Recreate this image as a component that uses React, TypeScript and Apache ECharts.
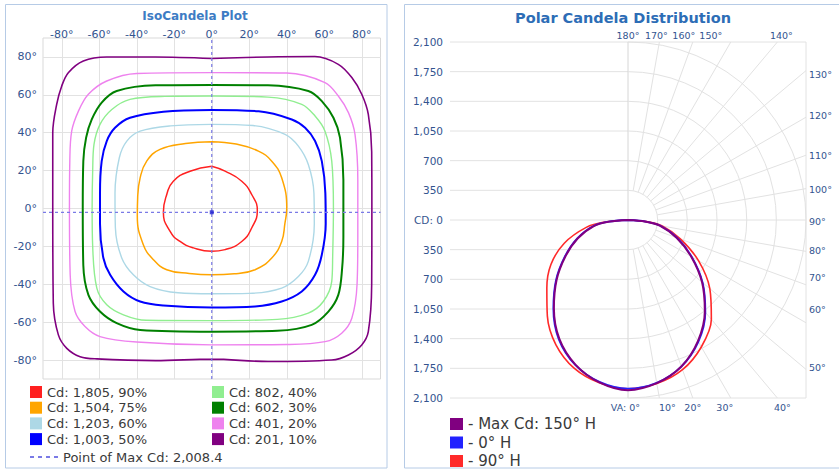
import React, { useEffect, useRef } from "react";
import * as echarts from "echarts";

const FONT = "'DejaVu Sans', Verdana, sans-serif";

// ---------------- IsoCandela plot data (degrees) ----------------
const isoAxisTicks = [-80, -60, -40, -20, 0, 20, 40, 60, 80];

const contourNames = [
  "Cd: 1,805, 90%",
  "Cd: 1,504, 75%",
  "Cd: 1,203, 60%",
  "Cd: 1,003, 50%",
  "Cd: 802, 40%",
  "Cd: 602, 30%",
  "Cd: 401, 20%",
  "Cd: 201, 10%",
];

const contour90 = [
  [0, 22.3], [7.1, 19.7], [16, 14.4], [21.3, 7.4], [24.3, -1], [21.3, -10.3], [16, -17.4],
  [7.1, -21.7], [0, -22.6], [-9.8, -20.8], [-16.9, -17.4], [-22.2, -12.1], [-25.8, -2],
  [-24, 7.4], [-20.5, 14.4], [-11.6, 19.7],
];
const contour75 = [
  [0, 35.3], [13, 34], [24.9, 30.3], [32, 25], [37.3, 16.2], [40, 0], [39, -8], [37.3, -17.4],
  [32, -26.1], [23.1, -32.3], [12, -34.5], [0, -35], [-12, -34.3], [-24, -32.3], [-31.1, -27],
  [-36.5, -19.1], [-39.7, -4], [-39.5, 6], [-38.2, 16.2], [-34.7, 25], [-27.6, 31.2], [-14, 34.3],
];
const contour60 = [
  [0, 44.4], [22, 43.8], [39.1, 39.1], [46.2, 32.9], [51.5, 23.2], [54.5, 8], [54.7, -8],
  [51.5, -27.9], [46.2, -35.9], [37.3, -42], [20, -44.8], [0, -45], [-18, -44.5], [-32.9, -41.2],
  [-41.8, -35], [-48, -26.1], [-51.4, -10], [-51.6, 8], [-49.3, 26.8], [-45.3, 35.6],
  [-38.2, 40.8], [-22, 43.6],
];
const contour50 = [
  [0, 52], [25, 51.3], [42.7, 47], [49.8, 42.6], [55.1, 35.6], [58.7, 25], [60.6, 8], [60.8, -8],
  [58.7, -24.4], [55.1, -35], [48, -43.8], [37.3, -49.1], [23.1, -51.7], [0, -52.3],
  [-25.8, -51.2], [-38.2, -49.1], [-47.1, -43.8], [-54.2, -35], [-57.8, -26.1], [-59.6, -8],
  [-59.6, 8], [-58.7, 25], [-56, 35.6], [-51.6, 42.6], [-43.6, 47.9], [-25.8, 51.1],
];
const contour40 = [
  [0, 59.4], [30, 58.8], [48, 55], [55.1, 48.8], [60.4, 40.8], [64, 25], [64.9, 0], [64.5, -25],
  [64, -38.5], [59.5, -49.1], [51.5, -55.2], [35, -58.5], [0, -59.2], [-35, -59], [-47.1, -56.1],
  [-56, -50.8], [-61.3, -42], [-63.5, -20], [-63.8, 0], [-63.5, 20], [-62.8, 33.8],
  [-59.6, 44.4], [-53.3, 52.3], [-43.6, 57.6], [-25, 59.2],
];
const contour30 = [
  [0, 65.2], [30, 65], [51.5, 62], [58.7, 56.7], [64.9, 47.9], [68.4, 37.4], [70.2, 15],
  [70.2, -15], [69.5, -32], [67.5, -45.6], [62.2, -54.4], [53.3, -61.4], [35, -64.5], [0, -65],
  [-38.2, -64.1], [-50.7, -60.5], [-59.6, -54.4], [-65.8, -45.6], [-68.5, -30], [-68.8, 0],
  [-68.5, 25], [-67, 37.4], [-64, 47], [-58.7, 55.9], [-50.7, 62], [-30, 65],
];
const contour20 = [
  [0, 71.7], [40, 71.5], [60.4, 66.5], [67.5, 59.4], [72.9, 50.6], [76.4, 39.1], [77.9, 15],
  [77.9, -15], [77.5, -40], [74.7, -57.9], [69.3, -65.8], [60.4, -70.3], [40, -71.8], [0, -72],
  [-40, -70.5], [-59.6, -67.6], [-67.6, -62.3], [-72.9, -54.4], [-75.5, -35], [-75.9, 0],
  [-75.7, 25], [-74.7, 40.8], [-71.1, 51.4], [-65.8, 60.3], [-56, 67.3], [-40, 71.3],
];
const contour10 = [
  [0, 79.2], [30, 80], [55, 80.2], [67.5, 76.1], [74.7, 69.1], [80, 60.3], [83.5, 49.7],
  [85.3, 30], [85.4, 0], [85.3, -40], [83.5, -65], [80, -72], [72.9, -77.3], [64, -80],
  [30, -80.8], [0, -79.5], [-30, -80.3], [-61.3, -79.4], [-70.2, -78.2], [-77.3, -73.8],
  [-81.8, -66.7], [-84.5, -50], [-84.8, 0], [-84.8, 40], [-82.7, 55], [-80, 64.7],
  [-76.5, 71.7], [-68.5, 77.9], [-56, 80], [-30, 80],
];
const contours = [contour90, contour75, contour60, contour50, contour40, contour30, contour20, contour10];

const maxPointName = "Point of Max Cd: 2,008.4";
const maxPoint = [0, -2];

// ---------------- Polar candela data ----------------
const cdGridValues = [350, 700, 1050, 1400, 1750, 2100];
const polarAngleLabels = [0, 10, 20, 30, 40, 50, 60, 70, 80, 90, 100, 110, 120, 130, 140, 150, 160, 170, 180];

const vaAngles = [0, 10, 20, 30, 40, 50, 60, 70, 80, 85, 90];
const polarNames = ["- Max Cd: 150° H", "- 0° H", "- 90° H"];
const maxCdRight = [2008, 1955, 1840, 1650, 1410, 1140, 860, 610, 380, 200, 0];
const maxCdLeft = [2008, 1945, 1815, 1620, 1360, 1100, 850, 630, 410, 220, 0];
const h0Right = [1990, 1950, 1840, 1660, 1420, 1150, 870, 620, 390, 210, 0];
const h0Left = [1990, 1940, 1820, 1630, 1370, 1110, 860, 640, 420, 230, 0];
const h90Right = [1990, 1960, 1880, 1730, 1530, 1260, 960, 660, 410, 220, 0];
const h90Left = [1990, 1950, 1860, 1700, 1480, 1250, 1050, 800, 500, 280, 0];
const polarRight = [maxCdRight, h0Right, h90Right];
const polarLeft = [maxCdLeft, h0Left, h90Left];

// ---------------- styles ----------------
const contourColors = ["#ff2020", "#ffa500", "#add8e6", "#0000ff", "#90ee90", "#008000", "#ee82ee", "#800080"];
const contourWidths = [1.5, 1.5, 1.4, 2, 1.4, 2, 1.4, 1.6];
const contourSmooth = [0.5, 0.45, 0.35, 0.35, 0.35, 0.35, 0.35, 0.35];
const polarColors = ["#800080", "#2222ff", "#ff2a2a"];
const polarWidths = [2, 1.8, 1.6];
const polarZ = [6, 5, 4];
const LABEL = "#33548f";
const GRID = "#e2e2e2";
const BORDER = "#b6cbe6";
const DASH = "#7a7ae6";

// label nudges (px) for the polar angle labels
const labelNudge: Record<number, number> = {
  170: -3, 160: -9, 150: -20, 140: 4,
  10: 8, 20: 0, 30: -6, 40: 5,
  130: 4, 120: -2, 110: 0, 100: 1, 90: 1, 80: -1, 70: -7, 60: -13, 50: -2,
};

function closeLoop(pts: number[][]) {
  return [...pts, pts[0]];
}

function polarToXY(left: number[], right: number[]) {
  const pts: number[][] = [];
  for (let i = vaAngles.length - 1; i >= 0; i--) {
    const t = (vaAngles[i] * Math.PI) / 180;
    pts.push([-left[i] * Math.sin(t), -left[i] * Math.cos(t)]);
  }
  for (let i = 1; i < vaAngles.length; i++) {
    const t = (vaAngles[i] * Math.PI) / 180;
    pts.push([right[i] * Math.sin(t), -right[i] * Math.cos(t)]);
  }
  return pts;
}

function textEl(x: number, y: number, text: string, font: string, fill: string, align: string) {
  return {
    type: "text",
    x,
    y,
    silent: true,
    style: {
      text,
      font,
      fill,
      textFill: fill,
      align,
      textAlign: align,
      verticalAlign: "middle",
      textVerticalAlign: "middle",
    },
  };
}

function renderPolarGrid(_params: any, api: any) {
  const R = cdGridValues[cdGridValues.length - 1];
  const c = api.coord([0, 0]);
  const ux = api.size([R, R])[0] / R;
  const children: any[] = [];
  const line = (a: number[], b: number[], stroke: string) => ({
    type: "line",
    silent: true,
    shape: { x1: a[0], y1: a[1], x2: b[0], y2: b[1] },
    style: { stroke, lineWidth: 1, fill: "none" },
  });
  const levels = [...cdGridValues.map((v) => -v), 0, ...cdGridValues];
  levels.forEach((v) => {
    const full = Math.abs(v) === R;
    children.push(line(api.coord([-R, v]), api.coord([full ? R : 0, v]), GRID));
  });
  children.push(line(api.coord([R, R]), api.coord([R, -R]), GRID));
  children.push(line(api.coord([0, R]), api.coord([0, -R]), "#d6d6d6"));
  cdGridValues.forEach((v) => {
    children.push({
      type: "arc",
      silent: true,
      shape: { cx: c[0], cy: c[1], r: v * ux, startAngle: -Math.PI / 2, endAngle: Math.PI / 2, clockwise: true },
      style: { stroke: GRID, lineWidth: 1, fill: "none" },
    });
  });
  const font = `9.5px ${FONT}`;
  polarAngleLabels.forEach((a) => {
    const t = (a * Math.PI) / 180;
    const s = Math.sin(t);
    const co = Math.cos(t);
    const k = R / Math.max(Math.abs(s), Math.abs(co));
    const edge = api.coord([k * s, -k * co]);
    if (a > 0 && a < 180) {
      const r0 = cdGridValues[0];
      children.push(line(api.coord([r0 * s, -r0 * co]), edge, GRID));
    }
    const nudge = labelNudge[a] || 0;
    let x: number;
    let y: number;
    let align = "center";
    if (Math.abs(co) > Math.abs(s) + 1e-9) {
      x = edge[0] + nudge;
      y = co < 0 ? edge[1] - 7 : edge[1] + 9;
    } else {
      x = edge[0] + 3;
      y = edge[1] + nudge;
      align = "left";
    }
    let text = `${a}°`;
    if (a === 0) {
      text = "VA: 0°";
      align = "right";
      x = edge[0] + 12;
    }
    children.push(textEl(x, y, text, font, LABEL, align));
  });
  return { type: "group", children };
}

export default function App() {
  const ref = useRef<HTMLDivElement>(null);

  useEffect(() => {
    if (!ref.current) return;
    const chart = echarts.init(ref.current, undefined, { renderer: "svg" });

    const isoLabel = (v: number) => (isoAxisTicks.includes(v) ? `${v}°` : "");
    const cdLabel = (v: number) => (v === 0 ? "CD: 0" : Math.abs(v).toLocaleString("en-US"));

    const contourSeries = contours.map((pts, i) => ({
      name: contourNames[i],
      type: "line",
      xAxisIndex: 0,
      yAxisIndex: 0,
      data: closeLoop(pts),
      smooth: contourSmooth[i],
      symbol: "none",
      silent: true,
      z: 3,
      itemStyle: { color: contourColors[i] },
      lineStyle: { color: contourColors[i], width: contourWidths[i] },
    }));

    const dashStyle = { color: DASH, width: 1.2, type: [3, 3] as any };
    const crossSeries = [
      {
        name: maxPointName,
        type: "line",
        xAxisIndex: 0,
        yAxisIndex: 0,
        data: [[maxPoint[0], -90], [maxPoint[0], 90]],
        symbol: "none",
        silent: true,
        z: 4,
        itemStyle: { color: DASH },
        lineStyle: dashStyle,
      },
      {
        name: maxPointName,
        type: "line",
        xAxisIndex: 0,
        yAxisIndex: 0,
        data: [[-90, maxPoint[1]], [90, maxPoint[1]]],
        symbol: "none",
        silent: true,
        z: 4,
        itemStyle: { color: DASH },
        lineStyle: dashStyle,
      },
      {
        name: "maxPointMarker",
        type: "scatter",
        xAxisIndex: 0,
        yAxisIndex: 0,
        data: [maxPoint],
        symbol: "rect",
        symbolSize: 4,
        silent: true,
        z: 5,
        itemStyle: { color: "#1a1ad0" },
      },
    ];

    const polarSeries = polarNames.map((name, i) => ({
      name,
      type: "line",
      xAxisIndex: 1,
      yAxisIndex: 1,
      data: polarToXY(polarLeft[i], polarRight[i]),
      smooth: 0.3,
      symbol: "none",
      silent: true,
      z: polarZ[i],
      itemStyle: { color: polarColors[i] },
      lineStyle: { color: polarColors[i], width: polarWidths[i] },
    }));

    const legendBase = {
      orient: "vertical",
      selectedMode: false,
      padding: 0,
      itemStyle: { borderWidth: 0 },
      textStyle: { fontSize: 13, lineHeight: 13, color: "#3a3a3a", fontFamily: FONT },
    };

    const option: any = {
      animation: false,
      backgroundColor: "#ffffff",
      textStyle: { fontFamily: FONT },
      graphic: [
        {
          type: "rect",
          silent: true,
          shape: { x: 5.5, y: 4.5, width: 381.5, height: 463.5 },
          style: { fill: "none", stroke: BORDER, lineWidth: 1 },
        },
        {
          type: "rect",
          silent: true,
          shape: { x: 404.5, y: 4.5, width: 440, height: 463.5 },
          style: { fill: "none", stroke: BORDER, lineWidth: 1 },
        },
        textEl(195, 15.5, "IsoCandela Plot", `bold 12px ${FONT}`, "#3d7cc4", "center"),
        textEl(623, 18, "Polar Candela Distribution", `bold 14.5px ${FONT}`, "#2d6db6", "center"),
      ],
      grid: [
        {
          left: 43,
          top: 38,
          width: 337.5,
          height: 341,
          show: true,
          borderColor: "#d9d9d9",
          borderWidth: 1,
          backgroundColor: "transparent",
        },
        { left: 450, top: 42, width: 356, height: 356, show: false },
      ],
      xAxis: [
        {
          gridIndex: 0,
          type: "value",
          min: -90,
          max: 90,
          interval: 10,
          position: "top",
          axisLine: { show: false },
          axisTick: { show: false },
          axisLabel: { formatter: isoLabel, color: LABEL, fontSize: 11, margin: -1.5, fontFamily: FONT },
          splitLine: { show: true, lineStyle: { color: ["rgba(0,0,0,0)", GRID], width: 1 } },
        },
        { gridIndex: 1, type: "value", min: -2100, max: 2100, show: false },
      ],
      yAxis: [
        {
          gridIndex: 0,
          type: "value",
          min: -90,
          max: 90,
          interval: 10,
          position: "left",
          axisLine: { show: false },
          axisTick: { show: false },
          axisLabel: { formatter: isoLabel, color: LABEL, fontSize: 11, margin: 6, fontFamily: FONT },
          splitLine: { show: true, lineStyle: { color: ["rgba(0,0,0,0)", GRID], width: 1 } },
        },
        {
          gridIndex: 1,
          type: "value",
          min: -2100,
          max: 2100,
          interval: 350,
          axisLine: { show: false },
          axisTick: { show: false },
          splitLine: { show: false },
          axisLabel: { formatter: cdLabel, color: LABEL, fontSize: 10.5, margin: 7, fontFamily: FONT },
        },
      ],
      legend: [
        { ...legendBase, data: contourNames.slice(0, 4), left: 30, top: 385.5, icon: "rect", itemWidth: 12, itemHeight: 12, itemGap: 2.7 },
        { ...legendBase, data: contourNames.slice(4), left: 212, top: 385.5, icon: "rect", itemWidth: 12, itemHeight: 12, itemGap: 2.7 },
        {
          ...legendBase,
          data: [maxPointName],
          left: 30,
          top: 450.5,
          icon: "path://M0 0h4v2h-4z M8 0h4v2h-4z M16 0h4v2h-4z M24 0h4v2h-4z",
          itemWidth: 28,
          itemHeight: 2,
          symbolKeepAspect: false,
        },
        {
          ...legendBase,
          data: polarNames,
          left: 450,
          top: 416.5,
          icon: "rect",
          itemWidth: 13,
          itemHeight: 12,
          itemGap: 3.5,
          textStyle: { fontSize: 15, lineHeight: 15, color: "#3a3a3a", fontFamily: FONT },
        },
      ],
      series: [
        {
          type: "custom",
          name: "polarGrid",
          xAxisIndex: 1,
          yAxisIndex: 1,
          data: [[0, 0]],
          renderItem: renderPolarGrid,
          silent: true,
          clip: false,
          z: 1,
        },
        ...contourSeries,
        ...crossSeries,
        ...polarSeries,
      ],
    };

    chart.setOption(option);
    return () => chart.dispose();
  }, []);

  return (
    <div
      ref={ref}
      style={{ position: "absolute", left: 0, top: 0, width: 839, height: 472, background: "#fff" }}
    />
  );
}
